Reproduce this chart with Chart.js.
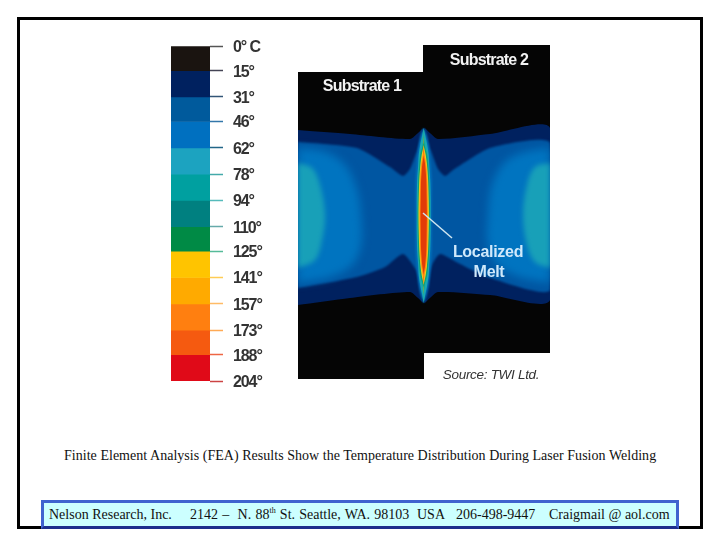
<!DOCTYPE html>
<html>
<head>
<meta charset="utf-8">
<title>FEA temperature distribution</title>
<script src="https://cdn.jsdelivr.net/npm/chart.js@4/dist/chart.umd.min.js"></script>
<style>
  html, body { margin: 0; padding: 0; background: #fff; width: 720px; height: 540px; overflow: hidden; }
  #frame { position: absolute; left: 17px; top: 17px; width: 686px; height: 512px; box-sizing: border-box; border: 3px solid #000; }
  #legendWrap { position: absolute; left: 160px; top: 30px; width: 130px; height: 370px; filter: blur(0.5px); }
  #fieldWrap { position: absolute; left: 290px; top: 35px; width: 270px; height: 355px; filter: blur(0.6px); }
  #caption { position: absolute; left: 64px; top: 448px; font: 14px "Liberation Serif", serif; letter-spacing: 0.03px; white-space: pre; color: #111; }
  #footer { position: absolute; left: 41px; top: 500px; width: 638px; height: 29px; box-sizing: border-box; background: #ccffff; border: 3px solid #3f63cf; border-bottom-color: #1c2f8c; }
  #footer span { position: absolute; top: 4px; font: 14px "Liberation Serif", serif; white-space: pre; color: #111; }
  #footer sup { font-size: 8px; line-height: 0; }
</style>
</head>
<body>
<div id="frame"></div>
<div id="legendWrap"><canvas id="legendChart" width="130" height="370"></canvas></div>
<div id="fieldWrap"><canvas id="fieldChart" width="270" height="355"></canvas></div>
<div id="caption">Finite Element Analysis (FEA) Results Show the Temperature Distribution During Laser Fusion Welding</div>
<div id="footer">
  <span style="left:5px">Nelson Research, Inc.</span>
  <span style="left:146px;word-spacing:0.7px">2142 –  N. 88<sup>th</sup> St. Seattle, WA. 98103</span>
  <span style="left:373px">USA</span>
  <span style="left:412px">206-498-9447</span>
  <span style="left:505px">Craigmail @ aol.com</span>
</div>
<script>
  // temperature key
  const tempTicks = [0, 15, 31, 46, 62, 78, 94, 110, 125, 141, 157, 173, 188, 204];
  const tempLabels = ['0° C', '15°', '31°', '46°', '62°', '78°', '94°', '110°', '125°', '141°', '157°', '173°', '188°', '204°'];
  const bandColors = ['#1a1410', '#00215f', '#005a9c', '#0070c0', '#1ca3c0', '#00a0a0', '#008080', '#008a45', '#ffc400', '#ffaa00', '#ff7f10', '#f55a10', '#e00a18'];
  const tickColors = ['#555', '#445', '#357', '#37a', '#268', '#4aa', '#5bb', '#6aa', '#5b9', '#fc5', '#fb6', '#fa5', '#e64', '#c44'];

  // temperature contours read from the plate, as [x, y] along the section
  const plateOutline = [[0, 27], [125, 27], [125, 0], [252, 0], [252, 308], [126, 308], [126, 334], [0, 334]];
  const navyContour = [[0, 85], [52, 89], [112, 94], [120, 88], [126, 83], [132, 88], [140, 94], [192, 89], [252, 83],
    [252, 255], [192, 250], [140, 247], [132, 253], [126, 258], [120, 253], [112, 247], [52, 253], [0, 260]];
  const blueContour = [[0, 97], [59, 103], [92, 122], [105, 131], [112, 124], [119, 106], [126, 90], [133, 106], [140, 124], [147, 131], [155, 125], [192, 103], [252, 98],
    [252, 245], [192, 233], [162, 219], [142, 209], [134, 220], [130, 240], [126, 250], [122, 240], [118, 225], [105, 209], [87, 222], [59, 232], [0, 243]];
  const lobeLeft = [[0, 103], [27, 107], [47, 120], [59, 145], [63, 170], [63, 200], [54, 220], [32, 232], [0, 238]];
  const lobeRight = [[252, 103], [227, 107], [207, 117], [194, 140], [190, 170], [190, 200], [200, 220], [222, 232], [252, 238]];
  const tealLeft = [[0, 118], [14, 123], [22, 140], [27, 170], [24, 195], [17, 215], [0, 223]];
  const tealRight = [[252, 118], [237, 122], [229, 140], [225, 170], [229, 200], [237, 217], [252, 223]];

  // melt zone half widths along the weld line
  const weldCentre = 125.7;
  const meltRows = [83, 90, 100, 110, 120, 135, 155, 170, 185, 205, 220, 230, 240, 250, 258];
  const haloWidths = [0, 3, 5, 6, 7, 8, 8, 8, 8, 8, 7, 6, 5, 3, 0];
  const tealWidths = [0, 1.5, 3.5, 5, 5.5, 6.5, 7, 7, 7, 6.5, 5.5, 5, 3.5, 1.5, 0];
  const greenWidths = [0, 0, 1, 3.5, 4.5, 5.5, 6, 6.2, 6, 5.5, 4.5, 3.5, 1, 0, 0];
  const yellowWidths = [0, 0, 0, 2, 3.3, 4.4, 5, 5.2, 5, 4.4, 3.3, 2, 0, 0, 0];
  const orangeWidths = [0, 0, 0, 1, 2.6, 3.6, 4, 4.2, 4, 3.6, 2.6, 1, 0, 0, 0];
  const redWidths = [0, 0, 0, 0, 1.5, 2.6, 3, 3.2, 3, 2.6, 1.5, 0, 0, 0, 0];
  const pointerLine = [[125, 168], [154, 193]];

  const fieldLabels = [
    { text: 'Substrate 1', at: [64, 42], color: '#f2f2f2', font: 'bold 16px "Liberation Sans"', spacing: '-0.8px' },
    { text: 'Substrate 2', at: [191, 15.5], color: '#f2f2f2', font: 'bold 16px "Liberation Sans"', spacing: '-0.8px' },
    { text: 'Localized', at: [190, 207.5], color: '#cfe9fb', font: 'bold 16px "Liberation Sans"', spacing: '-0.3px' },
    { text: 'Melt', at: [191, 227.5], color: '#cfe9fb', font: 'bold 16px "Liberation Sans"', spacing: '-0.3px' },
    { text: 'Source: TWI Ltd.', at: [193, 330], color: '#333', font: 'italic 13.5px "Liberation Sans"', spacing: '-0.3px' }
  ];

  function toPoints(pairs) {
    return pairs.map(([x, y]) => ({ x, y }));
  }

  function spindle(widths) {
    const left = meltRows.map((y, i) => ({ x: weldCentre - widths[i], y }));
    const right = meltRows.map((y, i) => ({ x: weldCentre + widths[i], y })).reverse();
    return left.concat(right);
  }

  function region(points, color, tension, softness) {
    return {
      data: points,
      showLine: true,
      fill: 'shape',
      backgroundColor: color,
      borderWidth: 0,
      pointRadius: 0,
      tension: tension,
      softness: softness
    };
  }

  // painted back to front, so the order value counts down
  const fieldLayers = [
    region(toPoints(plateOutline), '#050505', 0, 0),
    region(toPoints(navyContour), '#00215f', 0.25, 0.6),
    region(toPoints(blueContour), '#0056a2', 0.2, 1),
    region(toPoints(lobeLeft), '#0074c0', 0.35, 4),
    region(toPoints(lobeRight), '#0074c0', 0.35, 4),
    region(toPoints(tealLeft), '#18a0b8', 0.35, 2.5),
    region(toPoints(tealRight), '#18a0b8', 0.35, 2.5),
    region(spindle(haloWidths), '#0072bc', 0.3, 1),
    region(spindle(tealWidths), '#1aa8b0', 0.3, 0.5),
    region(spindle(greenWidths), '#12a070', 0.3, 0.4),
    region(spindle(yellowWidths), '#f8cc20', 0.3, 0.3),
    region(spindle(orangeWidths), '#ff8a10', 0.3, 0.3),
    region(spindle(redWidths), '#e23c08', 0.3, 0.3),
    {
      data: toPoints(pointerLine),
      showLine: true,
      fill: false,
      borderColor: '#cfe6f0',
      borderWidth: 1.5,
      pointRadius: 0,
      softness: 0
    }
  ];
  fieldLayers.forEach((layer, i) => { layer.order = fieldLayers.length - i; });

  function softFilter(i) {
    const layer = fieldLayers[i];
    return layer && layer.softness ? 'blur(' + layer.softness + 'px)' : 'none';
  }

  // each contour gets its own soft edge, set before the filler paints it
  const softenPlugin = {
    id: 'soften',
    beforeDatasetsDraw(chart) {
      chart.ctx.filter = softFilter(0);
    },
    afterDatasetDraw(chart, args) {
      chart.ctx.filter = softFilter(args.index + 1);
    }
  };

  const labelPlugin = {
    id: 'fieldText',
    afterDatasetsDraw(chart) {
      const { ctx, scales } = chart;
      ctx.save();
      ctx.filter = 'none';
      ctx.textAlign = 'center';
      ctx.textBaseline = 'middle';
      fieldLabels.forEach((l) => {
        ctx.font = l.font;
        ctx.letterSpacing = l.spacing;
        ctx.fillStyle = l.color;
        ctx.fillText(l.text, scales.x.getPixelForValue(l.at[0]), scales.y.getPixelForValue(l.at[1]));
      });
      ctx.restore();
    }
  };

  // no condensed face is installed, so the key labels are tightened instead
  const tightTicks = {
    id: 'tightTicks',
    beforeLayout(chart) {
      chart.ctx.letterSpacing = '-1.1px';
    }
  };

  new Chart(document.getElementById('legendChart'), {
    type: 'bar',
    data: {
      labels: ['Temperature'],
      datasets: bandColors.map((color, i) => ({
        data: [[tempTicks[i], tempTicks[i + 1]]],
        backgroundColor: color,
        borderWidth: 0,
        barPercentage: 1,
        categoryPercentage: 1
      }))
    },
    options: {
      responsive: false,
      animation: false,
      layout: { padding: { left: 11, top: 16, bottom: 19 } },
      plugins: { legend: { display: false }, tooltip: { enabled: false } },
      scales: {
        x: { stacked: true, display: false },
        y: {
          position: 'right',
          reverse: true,
          min: 0,
          max: 204,
          afterBuildTicks(axis) {
            axis.ticks = tempTicks.map((value) => ({ value }));
          },
          afterFit(axis) {
            axis.width = 80;
            axis.paddingTop = 0;
            axis.paddingBottom = 0;
          },
          border: { display: false },
          grid: {
            drawOnChartArea: false,
            tickLength: 13,
            tickWidth: 1.5,
            tickColor: (ctx) => tickColors[ctx.index]
          },
          ticks: {
            autoSkip: false,
            padding: 10,
            labelOffset: 1.5,
            color: '#333',
            font: { family: '"Liberation Sans"', size: 16, weight: 'bold' },
            callback: (value, i) => tempLabels[i]
          }
        }
      }
    },
    plugins: [tightTicks]
  });

  new Chart(document.getElementById('fieldChart'), {
    type: 'scatter',
    data: { datasets: fieldLayers },
    options: {
      responsive: false,
      animation: false,
      layout: { padding: { left: 8, right: 10, top: 10, bottom: 10 } },
      plugins: { legend: { display: false }, tooltip: { enabled: false } },
      scales: {
        x: { type: 'linear', display: false, min: 0, max: 252 },
        y: { type: 'linear', display: false, reverse: true, min: 0, max: 335 }
      }
    },
    plugins: [softenPlugin, labelPlugin]
  });
</script>
</body>
</html>
